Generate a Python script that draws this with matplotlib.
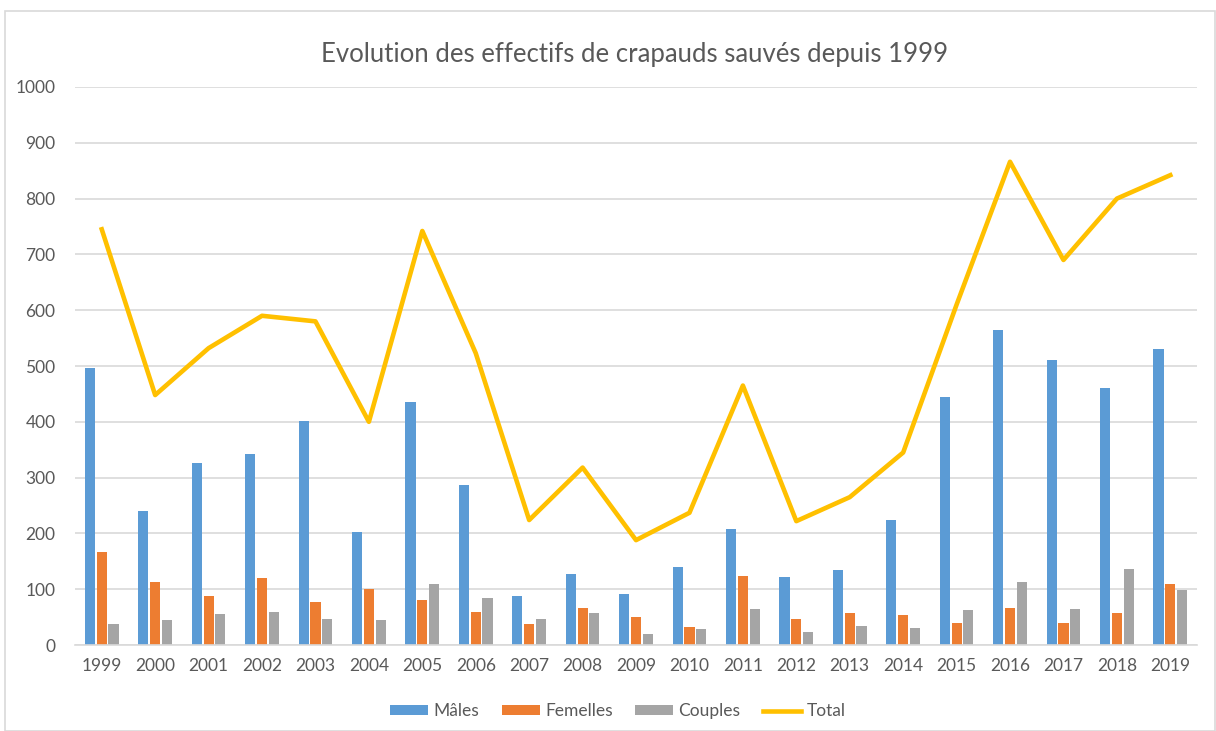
import numpy as np
import matplotlib.pyplot as plt
from matplotlib.patches import Rectangle

annees = [str(a) for a in range(1999, 2020)]
males = [497, 240, 327, 343, 402, 203, 435, 286, 87, 127, 91, 140, 208, 122, 134, 224, 445, 565, 510, 461, 530]
femelles = [166, 113, 87, 120, 77, 101, 80, 60, 38, 66, 50, 32, 124, 46, 57, 53, 39, 67, 39, 57, 109]
couples = [38, 44, 55, 60, 46, 44, 110, 85, 46, 58, 20, 29, 64, 23, 34, 30, 63, 113, 65, 136, 98]
total = [745, 448, 532, 590, 580, 400, 742, 523, 224, 318, 188, 237, 465, 222, 265, 345, 610, 866, 690, 800, 842]

plt.rcParams['font.family'] = ['Lato', 'DejaVu Sans']

fig = plt.figure(figsize=(12.16, 7.31), dpi=100)
ax = fig.add_axes([0.0617, 0.1176, 0.9227, 0.7634])

x = np.arange(len(annees))
w = 0.19
b1 = ax.bar(x - 0.22, males, w, color="#5B9BD5", label="Mâles", zorder=2)
b2 = ax.bar(x, femelles, w, color="#ED7D31", label="Femelles", zorder=2)
b3 = ax.bar(x + 0.22, couples, w, color="#A5A5A5", label="Couples", zorder=2)
l1, = ax.plot(x, total, color="#FFC000", lw=3.3, label="Total", zorder=3)

ax.set_xlim(-0.5, len(annees) - 0.5)
ax.set_ylim(0, 1000)
ax.set_yticks(range(0, 1001, 100))
ax.set_xticks(x)
ax.set_xticklabels(annees)
ax.grid(axis="y", color="#d9d9d9", lw=1.2, zorder=0)
for s in ["top", "right", "left"]:
    ax.spines[s].set_visible(False)
ax.spines["bottom"].set_color("#d9d9d9")
ax.spines["bottom"].set_linewidth(1.2)
ax.tick_params(axis="both", length=0, labelsize=12.5, colors="#595959", pad=9)
ax.tick_params(axis="y", pad=14)

fig.text(0.522, 0.926, "Evolution des effectifs de crapauds sauvés depuis 1999",
         ha="center", va="center", fontsize=18.5, color="#595959")

fig.legend(handles=[b1, b2, b3, l1], loc="center", bbox_to_anchor=(0.508, 0.027),
           ncol=4, frameon=False, fontsize=12.5, labelcolor="#595959",
           handlelength=2.2, handleheight=0.55, columnspacing=1.3, handletextpad=0.3)

fig.patches.append(Rectangle((0.004, 0.0), 0.995, 0.985, transform=fig.transFigure,
                             fill=False, edgecolor="#d9d9d9", lw=1.2))

plt.savefig("out.png", dpi=100)
